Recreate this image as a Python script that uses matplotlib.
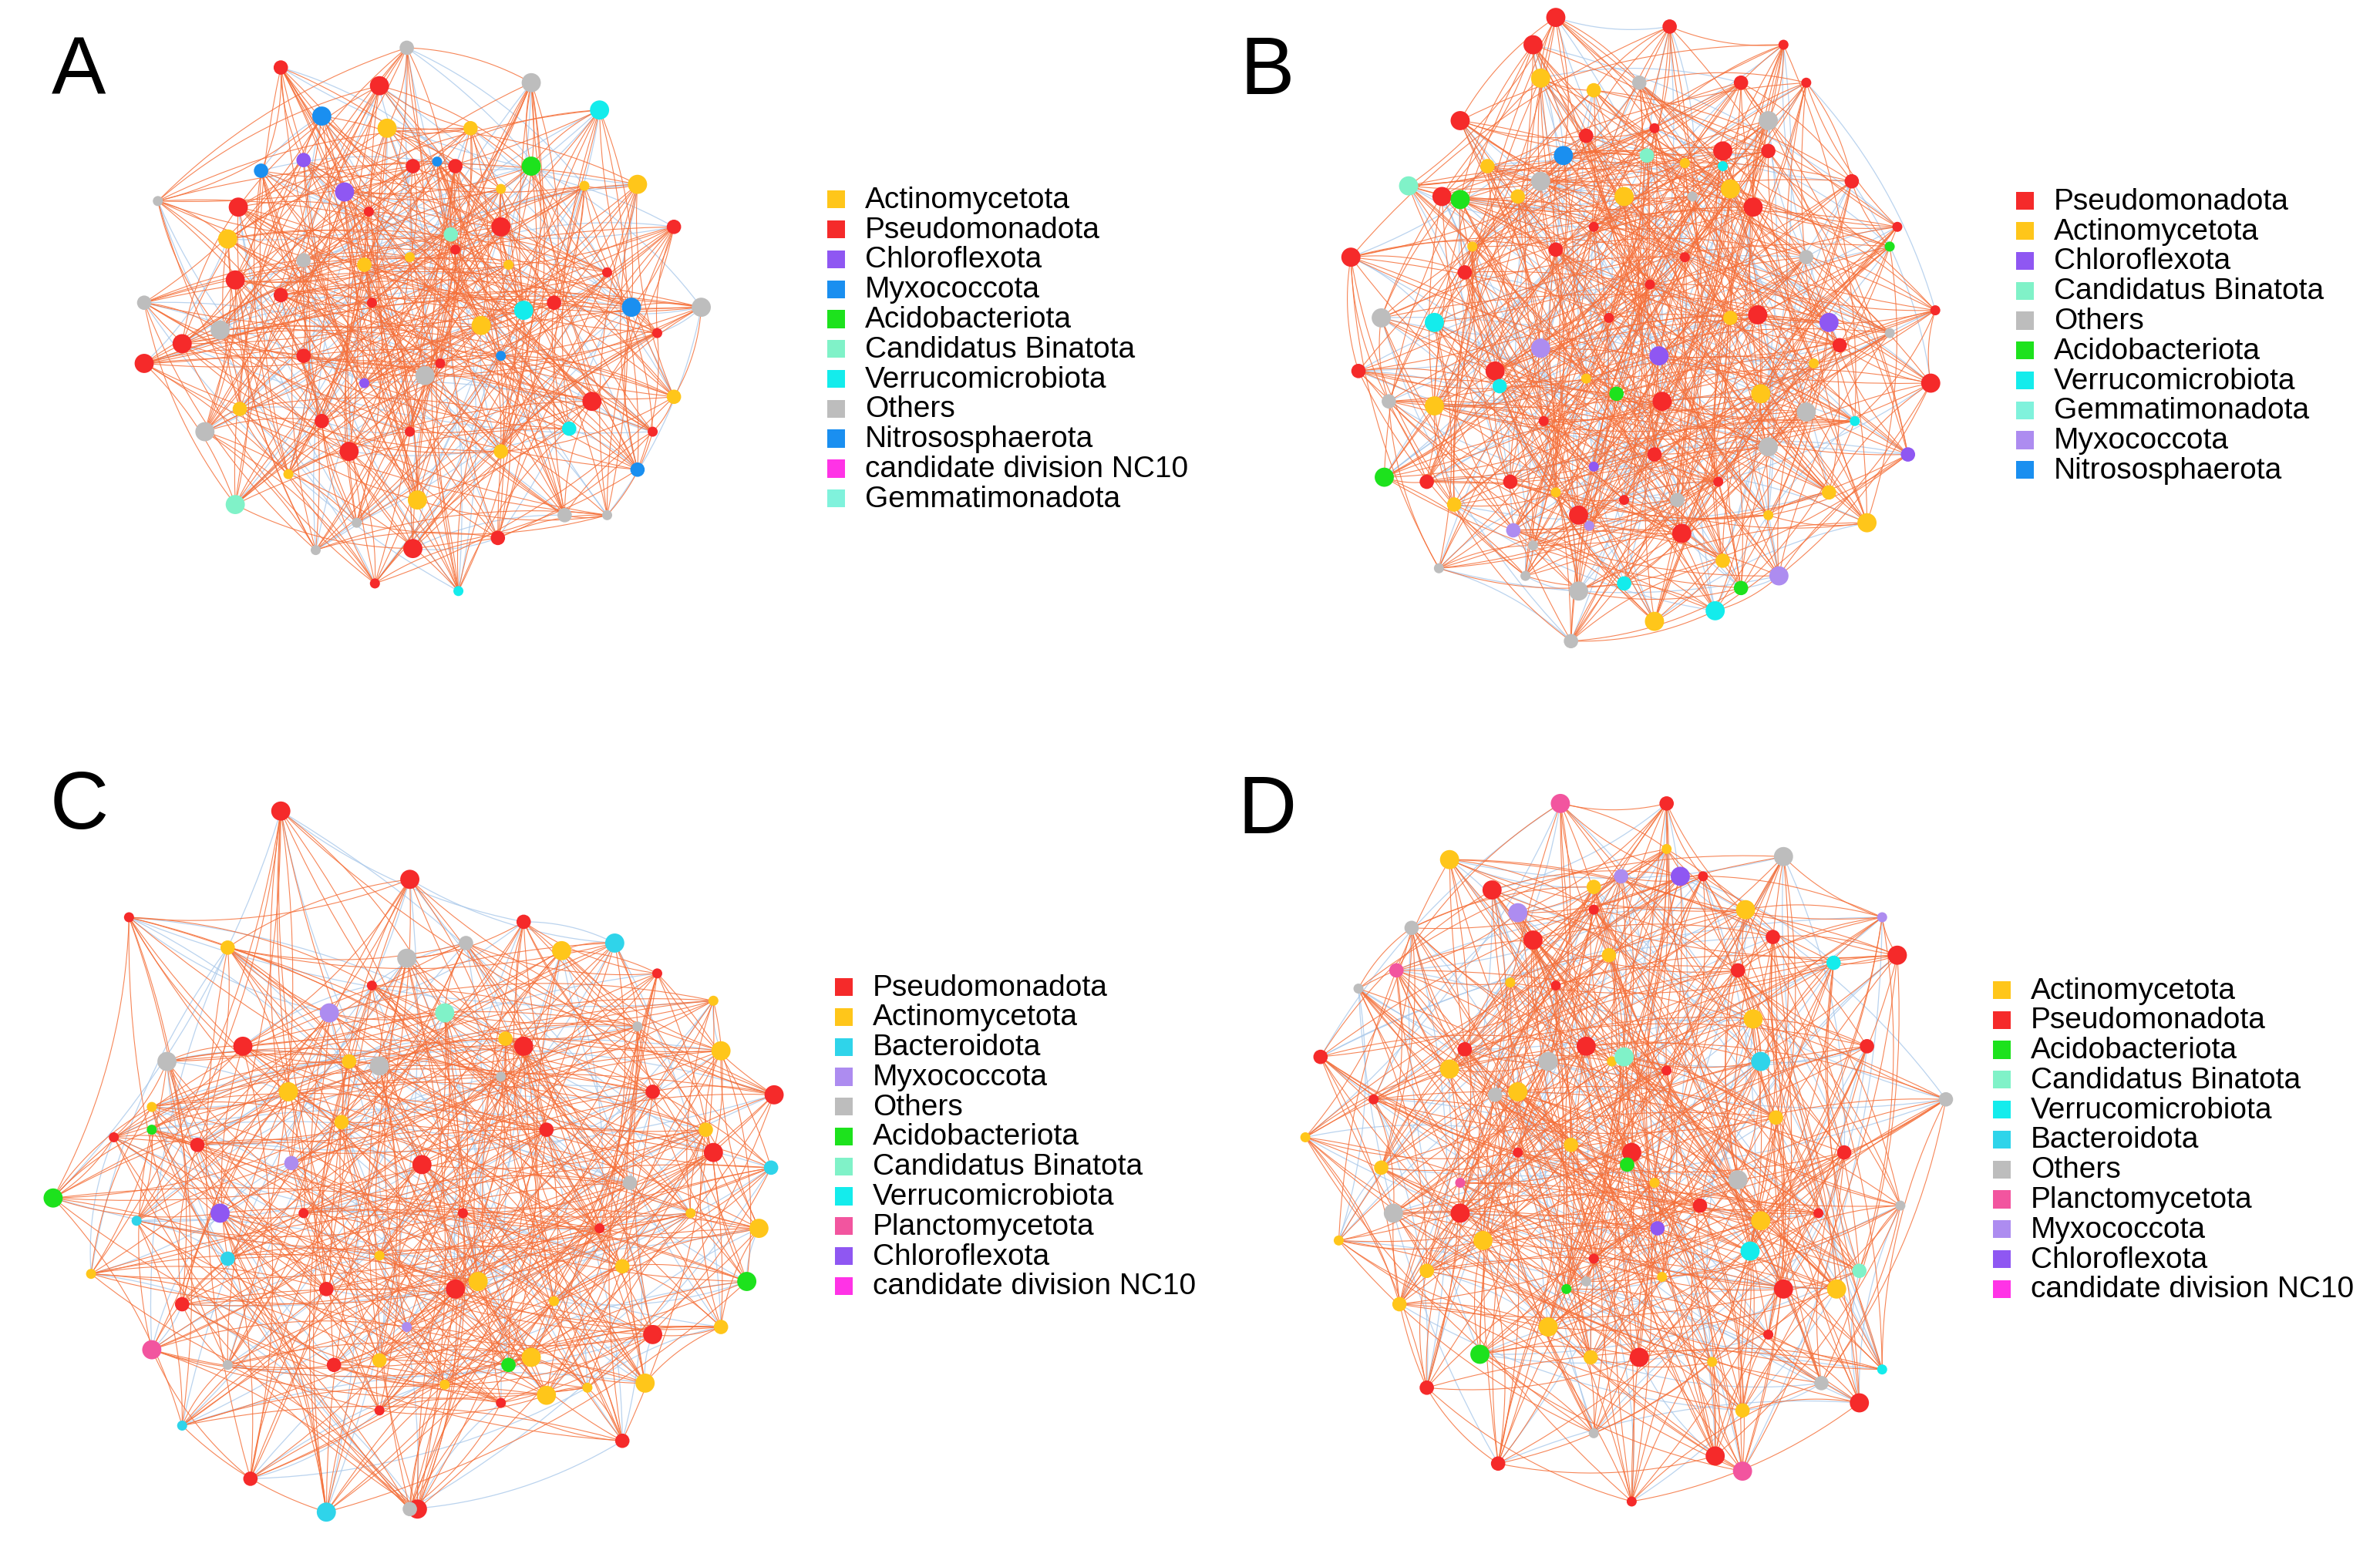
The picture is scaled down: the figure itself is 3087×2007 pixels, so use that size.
import numpy as np
import matplotlib.pyplot as plt
from matplotlib.collections import LineCollection

W, H = 1568, 1020

COL = {
    'Actinomycetota': '#ffc61a', 'Pseudomonadota': '#f52a2a', 'Chloroflexota': '#8f57f2',
    'Myxococcota': '#ad8cf0', 'Acidobacteriota': '#1de21d', 'Candidatus Binatota': '#80f2c8',
    'Verrucomicrobiota': '#14ecec', 'Others': '#bdbdbd', 'Nitrososphaerota': '#1a8ff0',
    'candidate division NC10': '#ff33e6', 'Gemmatimonadota': '#80f2dc',
    'Bacteroidota': '#2fd4ea', 'Planctomycetota': '#f2559f',
}
COL_A = dict(COL, Myxococcota='#1a8ff0')

# legends
legend_A = ['Actinomycetota', 'Pseudomonadota', 'Chloroflexota', 'Myxococcota', 'Acidobacteriota',
            'Candidatus Binatota', 'Verrucomicrobiota', 'Others', 'Nitrososphaerota',
            'candidate division NC10', 'Gemmatimonadota']
legend_B = ['Pseudomonadota', 'Actinomycetota', 'Chloroflexota', 'Candidatus Binatota', 'Others',
            'Acidobacteriota', 'Verrucomicrobiota', 'Gemmatimonadota', 'Myxococcota', 'Nitrososphaerota']
legend_C = ['Pseudomonadota', 'Actinomycetota', 'Bacteroidota', 'Myxococcota', 'Others',
            'Acidobacteriota', 'Candidatus Binatota', 'Verrucomicrobiota', 'Planctomycetota',
            'Chloroflexota', 'candidate division NC10']
legend_D = ['Actinomycetota', 'Pseudomonadota', 'Acidobacteriota', 'Candidatus Binatota',
            'Verrucomicrobiota', 'Bacteroidota', 'Others', 'Planctomycetota', 'Myxococcota',
            'Chloroflexota', 'candidate division NC10']

# node positions (pixel coords of reference, 1568x1020)
nodes_A = {
    'Pseudomonadota': [(250,57),(272,110),(243,140),(157,137),(185,195),(245,200),(120,227),(200,235),(290,240),
                       (155,185),(212,278),(270,285),(390,265),(444,150),(433,220),(272,362),(328,355),(247,385),
                       (230,298),(300,110),(300,165),(330,150),(185,45),(430,285),(95,240),(365,200),(400,180)],
    'Actinomycetota': [(150,158),(158,270),(190,313),(317,215),(330,298),(385,123),(420,122),(444,262),(270,170),
                       (255,85),(310,85),(330,125),(275,330),(240,175),(335,175)],
    'Others': [(350,55),(268,32),(104,133),(145,218),(200,172),(235,345),(280,248),(372,340),(400,340),(462,203),
               (95,200),(208,363),(135,285)],
    'Myxococcota': [(212,77),(172,113),(288,107),(416,203),(420,310),(330,235)],
    'Verrucomicrobiota': [(395,73),(375,283),(302,390),(345,205)],
    'Chloroflexota': [(227,127),(200,106),(240,253)],
    'Acidobacteriota': [(350,110)],
    'Candidatus Binatota': [(155,333),(297,155)],
}
nodes_B = {
    'Pseudomonadota': [(1025,12),(1100,18),(1175,30),(962,80),(1045,90),(1090,85),(1135,100),(1165,100),(1050,150),
                       (1155,137),(1025,165),(1087,188),(1158,208),(1212,228),(1060,210),(985,245),(965,180),
                       (1017,278),(1095,265),(1090,300),(1132,318),(1040,340),(995,318),(1070,330),(1108,352),
                       (940,318),(1110,170),(890,170),(895,245),(1275,205),(1272,253),(1220,120),(1190,55),
                       (950,130),(1147,55),(1250,150),(1010,30)],
    'Actinomycetota': [(1015,52),(1050,60),(1110,108),(1070,130),(1000,130),(970,163),(945,268),(958,333),
                       (1025,325),(1160,260),(1205,325),(1165,340),(1230,345),(1140,210),(1195,240),(1090,410),
                       (1135,370),(1045,250),(1140,125),(980,110)],
    'Others': [(1015,120),(1080,55),(1115,130),(1165,80),(1190,170),(1245,220),(910,210),(915,265),(1005,380),
               (1040,390),(1105,330),(1010,360),(1190,272),(1035,423),(948,375),(1165,295)],
    'Acidobacteriota': [(962,132),(1065,260),(1245,163),(912,315),(1147,388)],
    'Verrucomicrobiota': [(945,213),(988,255),(1222,278),(1130,403),(1070,385),(1135,110)],
    'Chloroflexota': [(1205,213),(1257,300),(1050,308),(1093,235)],
    'Myxococcota': [(1172,380),(997,350),(1047,347),(1015,230)],
    'Candidatus Binatota': [(928,123),(1085,103)],
    'Nitrososphaerota': [(1030,103)],
}
nodes_C = {
    'Pseudomonadota': [(185,535),(345,608),(433,642),(510,722),(430,720),(200,800),(278,768),(215,850),(330,925),
                       (430,880),(165,975),(250,930),(345,690),(130,755),(75,750),(275,995),(120,860),(395,810),
                       (300,850),(410,950),(245,650),(160,690),(360,745),(85,605),(270,580),(220,900),(305,800),
                       (470,760)],
    'Actinomycetota': [(370,627),(333,685),(470,660),(475,693),(465,745),(455,800),(500,810),(475,875),(387,915),
                       (360,920),(410,835),(250,828),(315,845),(225,740),(293,913),(350,895),(250,897),(365,858),
                       (425,912),(230,700),(100,730),(190,720),(150,625),(60,840)],
    'Others': [(268,632),(307,622),(420,677),(250,703),(415,780),(330,710),(110,700),(270,995),(150,900)],
    'Bacteroidota': [(405,622),(508,770),(120,940),(215,997),(150,830),(90,805)],
    'Myxococcota': [(217,668),(192,767),(268,875)],
    'Candidatus Binatota': [(293,668)],
    'Acidobacteriota': [(492,845),(335,900),(100,745),(35,790)],
    'Chloroflexota': [(145,800)],
    'Planctomycetota': [(100,890)],
}
nodes_D = {
    'Pseudomonadota': [(983,587),(1098,530),(1122,578),(1250,630),(1168,618),(1098,706),(1045,690),(870,697),
                       (1000,760),(1075,760),(1120,795),(1198,800),(962,800),(940,915),(1075,990),(1225,925),
                       (987,965),(1050,830),(1175,850),(1215,760),(905,725),(1010,620),(1145,640),(1025,650),
                       (1080,895),(1230,690),(1165,880),(1130,960),(965,692),(1050,600)],
    'Actinomycetota': [(955,567),(1050,585),(1098,560),(1150,600),(1060,630),(995,648),(1155,672),(1170,737),
                       (1062,700),(955,705),(910,770),(882,818),(977,818),(1035,755),(1090,780),(1160,805),
                       (1048,895),(1095,842),(1020,875),(922,860),(860,750),(1210,850),(1148,930),(1128,898),
                       (1000,720),(940,838)],
    'Others': [(1175,565),(930,612),(895,652),(1145,778),(985,722),(1045,845),(918,800),(1200,912),(1252,795),
               (1020,700),(1282,725),(1050,945)],
    'Acidobacteriota': [(975,893),(1072,768),(1032,850)],
    'Verrucomicrobiota': [(1153,825),(1208,635),(1240,903)],
    'Candidatus Binatota': [(1070,697),(1225,838)],
    'Planctomycetota': [(1028,530),(920,640),(962,780),(1148,970)],
    'Myxococcota': [(1000,602),(1068,578),(1240,605)],
    'Chloroflexota': [(1107,578),(1092,810)],
    'Bacteroidota': [(1160,700)],
}

panels = [
    ('A', (52, 48), nodes_A, legend_A, COL_A, (545, 132)),
    ('B', (835, 48), nodes_B, legend_B, COL, (1328, 133)),
    ('C', (52, 532), nodes_C, legend_C, COL, (550, 651)),
    ('D', (835, 535), nodes_D, legend_D, COL, (1313, 653)),
]

# index offsets used to link nodes into a dense network
OFFSETS = [1, 3, 7, 11, 17, 26, 37, 44]

fig = plt.figure(figsize=(3087 / 200, 2008 / 200), dpi=200)
ax = fig.add_axes([0, 0, 1, 1])
ax.set_xlim(0, W)
ax.set_ylim(H, 0)
ax.axis('off')

FONT = ['Liberation Sans', 'DejaVu Sans']
t = np.linspace(0, 1, 20)[:, None]

for label, lpos, nodes, legend, cmap, legpos in panels:
    pts, cols, sizes = [], [], []
    for name, lst in nodes.items():
        for k, p in enumerate(lst):
            pts.append(p)
            cols.append(cmap[name])
            sizes.append(80 if k % 3 == 0 else (45 if k % 3 == 1 else 22))
    pts = np.array(pts, float)
    n = len(pts)
    segs_o, segs_b = [], []
    for i in range(n):
        for m, off in enumerate(OFFSETS):
            a, b = pts[i], pts[(i + off) % n]
            d = b - a
            perp = np.array([-d[1], d[0]]) * 0.12
            c = (a + b) / 2 + perp
            curve = (1 - t) ** 2 * a + 2 * (1 - t) * t * c + t ** 2 * b
            (segs_b if (i + m) % 5 == 0 else segs_o).append(curve)
    ax.add_collection(LineCollection(segs_b, colors='#a9c8ea', linewidths=0.45, alpha=0.8, zorder=1))
    ax.add_collection(LineCollection(segs_o, colors='#f5703a', linewidths=0.4, alpha=0.85, zorder=2))
    ax.scatter(pts[:, 0], pts[:, 1], s=sizes, c=cols, edgecolors='none', zorder=3)
    ax.text(lpos[0], lpos[1], label, fontsize=38, ha='center', va='center', family=FONT)
    for i, name in enumerate(legend):
        y = legpos[1] + i * 19.7
        ax.scatter([legpos[0] + 6], [y], s=70, marker='s', c=cmap[name], edgecolors='none')
        ax.text(legpos[0] + 25, y, name, fontsize=14, va='center', family=FONT)

fig.savefig('out.png', dpi=200)
